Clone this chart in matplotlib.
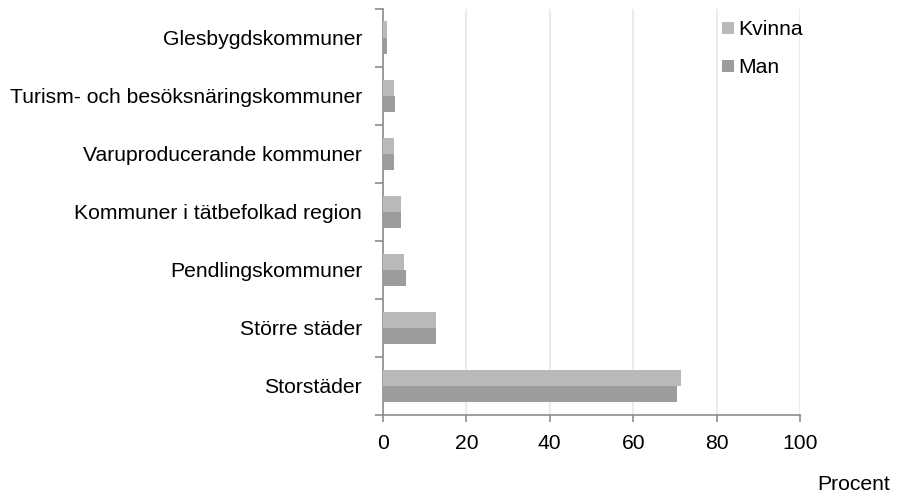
import matplotlib.pyplot as plt
import numpy as np

plt.rcParams['font.family'] = ['Liberation Sans', 'DejaVu Sans']

categories = [
    "Storstäder",
    "Större städer",
    "Pendlingskommuner",
    "Kommuner i tätbefolkad region",
    "Varuproducerande kommuner",
    "Turism- och besöksnäringskommuner",
    "Glesbygdskommuner",
]
kvinna = [71.5, 12.7, 5.0, 4.4, 2.6, 2.6, 0.9]
man = [70.6, 12.6, 5.5, 4.4, 2.7, 2.8, 1.0]
xticks = [0, 20, 40, 60, 80, 100]

col_k = "#b9b9b9"
col_m = "#9c9c9c"
axis_col = "#8c8c8c"
fs = 15.2

fig = plt.figure(figsize=(9.02, 4.93), dpi=100)
ax = fig.add_axes([383 / 902, 1 - 415 / 493, (800 - 383) / 902, (415 - 8.7) / 493])

y = np.arange(len(categories))
h = 0.28
ax.barh(y + h / 2, kvinna, height=h, color=col_k, label="Kvinna", zorder=3)
ax.barh(y - h / 2, man, height=h, color=col_m, label="Man", zorder=3)

ax.set_xlim(0, 100)
ax.set_ylim(-0.5, len(categories) - 0.5)
ax.set_xticks(xticks)
ax.set_yticks(y)
ax.set_yticklabels(categories, fontsize=fs)
ax.set_yticks(np.arange(-0.5, len(categories), 1), minor=True)
ax.tick_params(axis="y", which="major", length=0, pad=15)
ax.tick_params(axis="y", which="minor", length=6, width=1.2, color=axis_col, direction="out")
ax.tick_params(axis="x", length=5, width=1.2, color=axis_col, direction="out", pad=9, labelsize=fs)

ax.grid(axis="x", color="#e8e8e8", linewidth=1.2, zorder=0)
for s in ["top", "right"]:
    ax.spines[s].set_visible(False)
for s in ["left", "bottom"]:
    ax.spines[s].set_color(axis_col)
    ax.spines[s].set_linewidth(1.2)

ax.legend(loc="upper left", bbox_to_anchor=(0.813, 0.971), frameon=False, fontsize=fs,
          borderpad=0, borderaxespad=0,
          handlelength=0.55, handleheight=0.55, handletextpad=0.2, labelspacing=0.9)

fig.text(890 / 902, 1 - 484 / 493, "Procent", ha="right", va="center", fontsize=fs)

fig.savefig("out.png", dpi=100)
